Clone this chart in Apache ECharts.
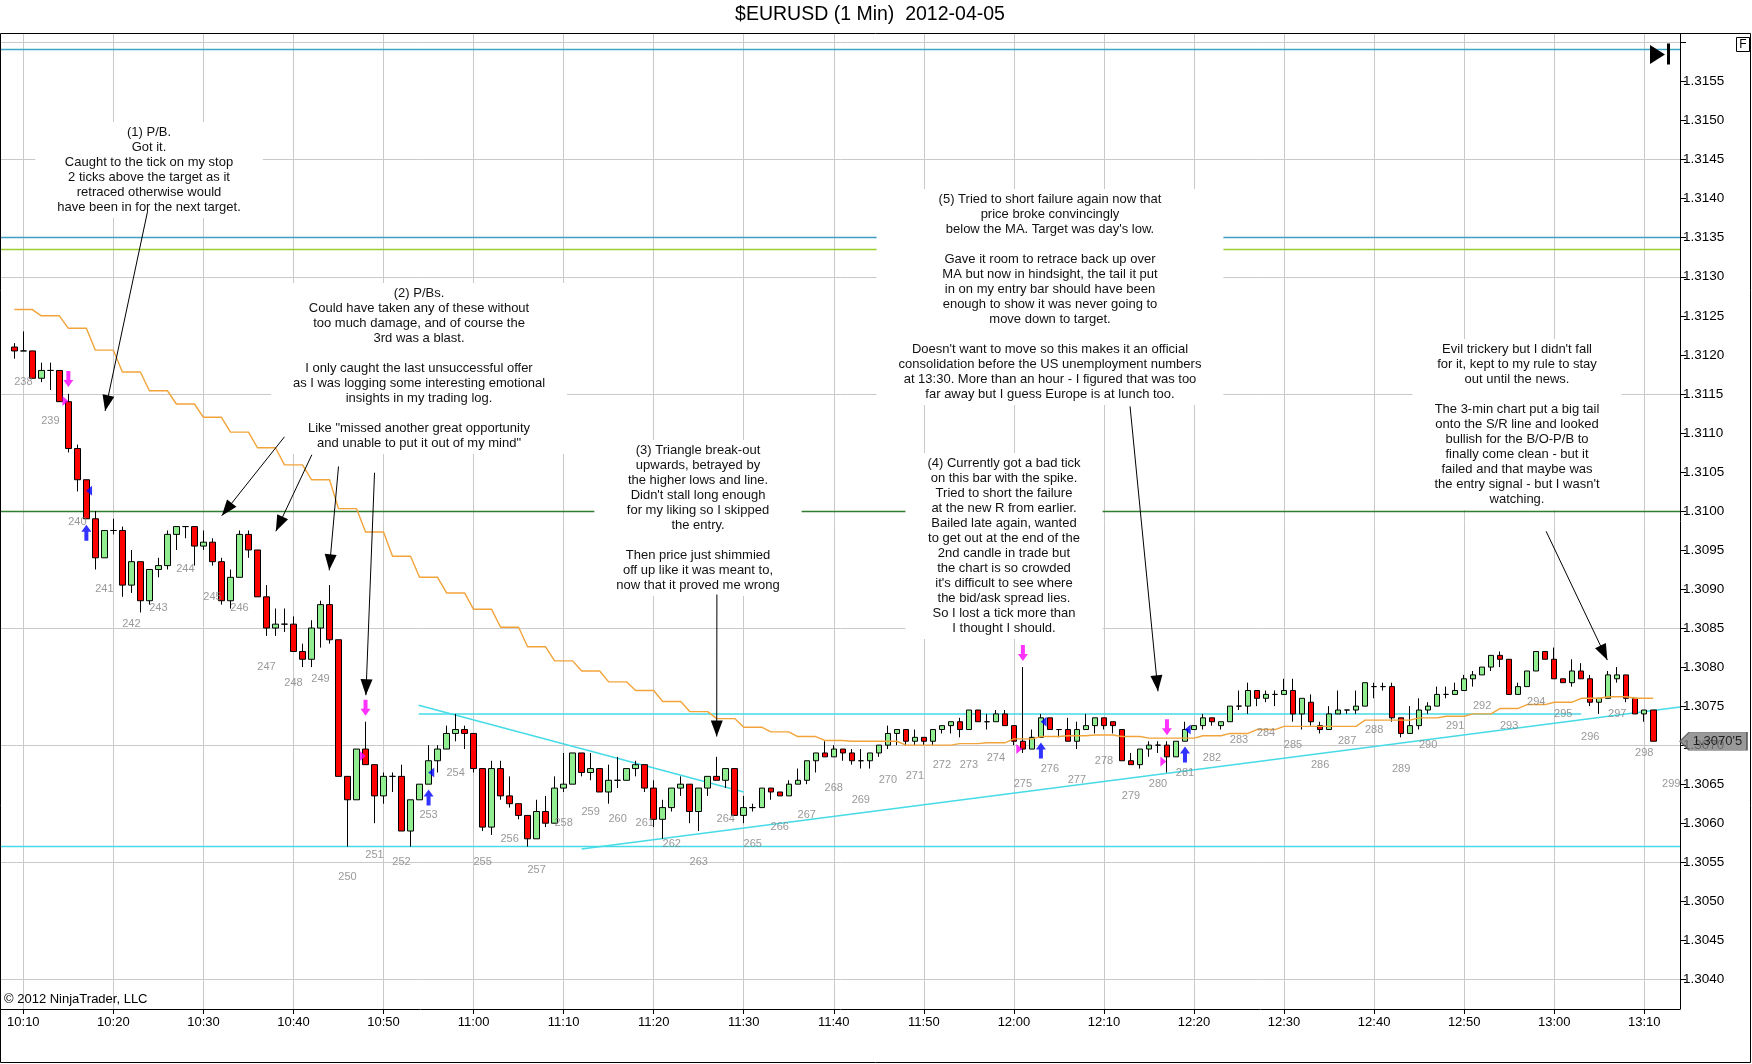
<!DOCTYPE html>
<html><head><meta charset="utf-8">
<script src="https://cdn.jsdelivr.net/npm/echarts@6/dist/echarts.min.js"></script>
<style>html,body{margin:0;padding:0;background:#fff}#c{width:1752px;height:1064px}</style>
</head><body><div id="c"></div>
<script>
// minutes are counted from 10:10 (0 = 10:10); first bar is 10:09
const firstBarMinute = -1;
// [open, close, low, high] per 1-min bar, 10:09 .. 13:11
const ohlc = [
 [1.3121,1.31205,1.31195,1.31215],
 // 10:10
 [1.31205,1.31205,1.31205,1.3123],[1.31205,1.3117,1.3117,1.31205],[1.3117,1.3118,1.31165,1.3119],[1.3118,1.3118,1.31155,1.3119],[1.3118,1.3114,1.3114,1.3118],
 [1.3114,1.3108,1.31075,1.3115],[1.3108,1.3104,1.31025,1.31085],[1.3104,1.3099,1.3099,1.3104],[1.3099,1.3094,1.30925,1.31],[1.3094,1.30975,1.3094,1.30975],
 // 10:20
 [1.30975,1.30975,1.3097,1.3099],[1.30975,1.30905,1.3089,1.3098],[1.30905,1.30935,1.30895,1.3095],[1.30935,1.30885,1.3087,1.30935],[1.30885,1.30925,1.3088,1.30925],
 [1.30925,1.3093,1.30915,1.3094],[1.3093,1.3097,1.30925,1.30975],[1.3097,1.3098,1.3095,1.3098],[1.3098,1.3098,1.30965,1.3098],[1.3098,1.30955,1.3093,1.3098],
 // 10:30
 [1.30955,1.3096,1.3095,1.30975],[1.3096,1.30935,1.3093,1.30965],[1.30935,1.30885,1.3088,1.3094],[1.30885,1.30915,1.30875,1.30925],[1.30915,1.3097,1.30915,1.30975],
 [1.3097,1.3095,1.3094,1.30975],[1.3095,1.3089,1.3089,1.3095],[1.3089,1.3085,1.3084,1.30905],[1.3085,1.30855,1.3084,1.30875],[1.30855,1.30855,1.30845,1.30875],
 // 10:40
 [1.30855,1.3082,1.3082,1.30865],[1.3082,1.3081,1.308,1.3083],[1.3081,1.3085,1.308,1.3086],[1.3085,1.3088,1.30825,1.30885],[1.3088,1.30835,1.3083,1.30905],
 [1.30835,1.3066,1.3066,1.30835],[1.3066,1.3063,1.3057,1.3066],[1.3063,1.30695,1.3063,1.30695],[1.30695,1.30675,1.30675,1.3073],[1.30675,1.30635,1.306,1.30675],
 // 10:50
 [1.30635,1.3066,1.30625,1.30665],[1.3066,1.3066,1.3064,1.30665],[1.3066,1.3059,1.3059,1.30675],[1.3059,1.3063,1.3057,1.3063],[1.3063,1.3065,1.3063,1.3065],
 [1.3065,1.3068,1.3065,1.307],[1.3068,1.30695,1.30665,1.307],[1.30695,1.30715,1.30695,1.30725],[1.30715,1.3072,1.30705,1.3074],[1.3072,1.30715,1.30695,1.30725],
 // 11:00
 [1.30715,1.3067,1.30665,1.30715],[1.3067,1.30595,1.3059,1.3067],[1.30595,1.3067,1.30585,1.3068],[1.3067,1.30635,1.3063,1.3068],[1.30635,1.30625,1.3062,1.3066],
 [1.30625,1.3061,1.30605,1.30625],[1.3061,1.3058,1.3057,1.3061],[1.3058,1.30615,1.3058,1.3063],[1.30615,1.306,1.30595,1.30635],[1.306,1.30645,1.306,1.3066],
 // 11:10
 [1.30645,1.3065,1.3064,1.3069],[1.3065,1.3069,1.3065,1.3069],[1.3069,1.30665,1.3066,1.3069],[1.30665,1.3067,1.30655,1.3069],[1.3067,1.3064,1.3064,1.3067],
 [1.3064,1.30655,1.30625,1.30675],[1.30655,1.30655,1.30645,1.30685],[1.30655,1.3067,1.30655,1.3067],[1.3067,1.30675,1.3066,1.3068],[1.30675,1.30645,1.3064,1.30675],
 // 11:20
 [1.30645,1.30605,1.30595,1.30655],[1.30605,1.3062,1.3058,1.3063],[1.3062,1.30645,1.30615,1.30645],[1.30645,1.3065,1.30635,1.3066],[1.3065,1.30615,1.306,1.3065],
 [1.30615,1.30645,1.3059,1.30645],[1.30645,1.3066,1.30635,1.3066],[1.3066,1.30655,1.30655,1.30685],[1.30655,1.3067,1.30645,1.3067],[1.3067,1.3061,1.3061,1.3067],
 // 11:30
 [1.3061,1.3062,1.306,1.30635],[1.3062,1.3062,1.30615,1.30625],[1.3062,1.30645,1.3062,1.30645],[1.30645,1.3064,1.3063,1.30645],[1.3064,1.30635,1.30635,1.3064],
 [1.30635,1.3065,1.30635,1.30655],[1.3065,1.30655,1.3065,1.3067],[1.30655,1.3068,1.3065,1.3068],[1.3068,1.3069,1.30665,1.3069],[1.3069,1.30685,1.30685,1.30705],
 // 11:40
 [1.30685,1.30695,1.30685,1.307],[1.30695,1.3069,1.3068,1.30695],[1.3069,1.3068,1.30675,1.30695],[1.3068,1.3068,1.3067,1.30695],[1.3068,1.3069,1.3067,1.3069],
 [1.3069,1.307,1.30685,1.307],[1.307,1.30715,1.30695,1.30725],[1.30715,1.3072,1.307,1.3072],[1.3072,1.30705,1.307,1.3072],[1.30705,1.3071,1.307,1.3072],
 // 11:50
 [1.3071,1.30705,1.307,1.3071],[1.30705,1.3072,1.307,1.3072],[1.3072,1.30725,1.30715,1.30725],[1.30725,1.3073,1.30715,1.3073],[1.3073,1.3072,1.3071,1.30735],
 [1.3072,1.30745,1.3072,1.30745],[1.30745,1.3073,1.3073,1.30745],[1.3073,1.3073,1.3072,1.3074],[1.3073,1.3074,1.3073,1.30745],[1.3074,1.30725,1.30725,1.30745],
 // 12:00
 [1.30725,1.30705,1.307,1.30725],[1.30705,1.30695,1.3069,1.308],[1.30695,1.3071,1.30695,1.3072],[1.3071,1.30735,1.3071,1.3074],[1.30735,1.3072,1.3072,1.30735],
 [1.3072,1.3072,1.3071,1.3072],[1.3072,1.30705,1.30705,1.30735],[1.30705,1.3072,1.30695,1.3073],[1.3072,1.30725,1.3072,1.3074],[1.30725,1.30735,1.30715,1.30735],
 // 12:10
 [1.30735,1.30725,1.3072,1.30735],[1.3073,1.30725,1.30715,1.3073],[1.3072,1.3068,1.3068,1.3072],[1.3068,1.30675,1.30675,1.3069],[1.30675,1.30695,1.3067,1.30695],
 [1.30695,1.307,1.30685,1.30705],[1.307,1.307,1.3069,1.30705],[1.307,1.30685,1.30665,1.30705],[1.30685,1.30705,1.30685,1.30705],[1.30705,1.3072,1.30705,1.3073],
 // 12:20
 [1.3072,1.30725,1.3072,1.30725],[1.30725,1.30735,1.3072,1.3074],[1.30735,1.3073,1.30725,1.30735],[1.30725,1.3073,1.3072,1.3073],[1.3073,1.3075,1.3073,1.3075],
 [1.3075,1.3075,1.30745,1.3077],[1.3075,1.3077,1.3074,1.3078],[1.3077,1.3076,1.3075,1.3077],[1.3076,1.30765,1.30755,1.3077],[1.30765,1.30765,1.3075,1.3077],
 // 12:30
 [1.30765,1.3077,1.30765,1.30785],[1.3077,1.3074,1.3073,1.30785],[1.3074,1.3076,1.3072,1.3076],[1.30755,1.3073,1.30725,1.30765],[1.30725,1.3072,1.30715,1.3073],
 [1.3072,1.3074,1.3072,1.3075],[1.3074,1.30745,1.3074,1.3077],[1.30745,1.30745,1.3074,1.30745],[1.30745,1.3075,1.3074,1.3077],[1.3075,1.3078,1.3075,1.3078],
 // 12:40
 [1.30775,1.30775,1.3076,1.3078],[1.30775,1.30775,1.3077,1.3078],[1.30775,1.30735,1.3073,1.3078],[1.30735,1.30715,1.3071,1.30735],[1.30715,1.30725,1.30715,1.3075],
 [1.30725,1.30745,1.3072,1.3076],[1.30745,1.3075,1.3074,1.30755],[1.3075,1.30765,1.3075,1.30775],[1.30765,1.30765,1.3076,1.30775],[1.30765,1.3077,1.30765,1.3078],
 // 12:50
 [1.3077,1.30785,1.3077,1.3079],[1.30785,1.3079,1.30775,1.30795],[1.3079,1.308,1.3079,1.308],[1.308,1.30815,1.30795,1.30815],[1.30815,1.3081,1.308,1.3082],
 [1.3081,1.30765,1.30765,1.3081],[1.30765,1.30775,1.30765,1.3078],[1.30775,1.30795,1.30775,1.30795],[1.30795,1.3082,1.30795,1.3082],[1.3082,1.3081,1.3081,1.3082],
 // 13:00
 [1.3081,1.30785,1.30785,1.30825],[1.30785,1.3078,1.3078,1.30785],[1.3078,1.30795,1.30775,1.3081],[1.30795,1.30785,1.30785,1.30805],[1.30785,1.30755,1.3075,1.3079],
 [1.30755,1.3076,1.3074,1.3076],[1.3076,1.3079,1.3076,1.30795],[1.30785,1.3079,1.3078,1.308],[1.3079,1.3076,1.30755,1.3079],[1.3076,1.3074,1.3074,1.3076],
 // 13:10
 [1.3074,1.30745,1.3073,1.30745],[1.30745,1.30705,1.30705,1.30745]
];
// moving average, one value per 3-minute block (first block 10:09-10:11, then 10:12-10:14, ...)
const maBlocks = [1.31258,1.3125,1.31234,1.31206,1.31178,1.31154,1.31137,1.3112,1.31101,1.31081,
 1.31059,1.3104,1.31003,1.30973,1.30942,1.30915,1.30895,1.30874,1.30851,1.30826,
 1.30808,1.30795,1.30781,1.3077,1.30756,1.30743,1.30734,1.30723,1.30717,1.30711,
 1.30706,1.30705,1.30705,1.307,1.307,1.30702,1.30703,1.30708,1.30711,1.30712,
 1.30713,1.30711,1.30709,1.30709,1.30712,1.30715,1.3072,1.30724,1.30724,1.30724,
 1.30732,1.30732,1.30735,1.30737,1.3074,1.30747,1.30752,1.30755,1.3076,1.30762,1.3076];
// bar counter labels 238..299 (every 3rd bar), price level of each label
const barNumberFirst = 238;
const barNumberPrices = [1.31165,1.31115,1.30986,1.309,1.30855,1.30876,1.30926,1.3089,1.30876,1.308,
 1.3078,1.30785,1.30531,1.30559,1.3055,1.30611,1.30665,1.3055,1.3058,1.3054,
 1.306,1.30614,1.30605,1.306,1.30574,1.3055,1.30605,1.30574,1.30595,1.3061,
 1.30645,1.3063,1.30655,1.3066,1.30674,1.30674,1.30684,1.3065,1.3067,1.30655,
 1.3068,1.30635,1.3065,1.30665,1.30684,1.30706,1.30715,1.307,1.30674,1.30705,
 1.3072,1.30669,1.307,1.30724,1.3075,1.30724,1.30755,1.3074,1.3071,1.3074,1.3069,1.3065];
// trade markers [minute, price]
const shortEntries = [[5,1.31169],[38,1.30748],[111,1.30818],[127,1.30723]];
const shortExits = [[4.67,1.31141],[37.7,1.30686],[110.6,1.30695],[126.6,1.30679]];
const coverMarks = [[7,1.30972],[45,1.30633],[113,1.30693],[129,1.30688]];
const coverExits = [[7.3,1.31026],[45.3,1.30665],[113.3,1.3073],[129.3,1.3072]];
// drawn lines
const horizontalLevels = [
 {price:1.31592,color:'#3fa6c4'},{price:1.3135,color:'#3f9fc2'},{price:1.31335,color:'#9acd32'},
 {price:1.3100,color:'#2f7d2f'},{price:1.3057,color:'#46dbe6'}];
const segmentLines = [ // [m1,p1,m2,p2]
 [43.9,1.3074,173,1.3074],[43.9,1.30751,80,1.3064],[62,1.30567,183.97,1.30749]];
const annotationArrows = [ // [m1,p1,m2,p2] tail -> head
 [13.8,1.31384,9.08,1.31128],[29.0,1.31095,22.04,1.30994],[32.04,1.31072,28.04,1.30974],
 [35.0,1.31057,33.97,1.30924],[39.0,1.31049,38.04,1.30764],[77.02,1.30893,77.0,1.30711],
 [122.9,1.31134,126.0,1.30769],[169.1,1.30974,175.9,1.30809]];
const lastPrice = 1.30705, lastPriceLabel = "1.3070'5";
// axes
const xMin = -2.48, xMax = 183.97, yMin = 1.30362, yMax = 1.31611;
const xTicks = [0,10,20,30,40,50,60,70,80,90,100,110,120,130,140,150,160,170,180];
const xTickLabels = ['10:10','10:20','10:30','10:40','10:50','11:00','11:10','11:20','11:30','11:40','11:50','12:00','12:10','12:20','12:30','12:40','12:50','13:00','13:10'];
const yTicks = [1.3040,1.3045,1.3050,1.3055,1.3060,1.3065,1.3070,1.3075,1.3080,1.3085,1.3090,1.3095,1.3100,1.3105,1.3110,1.3115,1.3120,1.3125,1.3130,1.3135,1.3140,1.3145,1.3150,1.3155,1.3160];
const yLabelTicks = yTicks.slice(0, yTicks.length - 1);
const hGrid = [1.3040,1.3055,1.3070,1.3085,1.3100,1.3115,1.3130,1.3145,1.3160];
const titleText = '$EURUSD (1 Min)  2012-04-05';
const notes = [
 {cx:149, top:122, text:'(1) P/B.\nGot it.\nCaught to the tick on my stop\n2 ticks above the target as it\nretraced otherwise would\nhave been in for the next target.'},
 {cx:419, top:283, text:'(2) P/Bs.\nCould have taken any of these without\ntoo much damage, and of course the\n3rd was a blast.\n\nI only caught the last unsuccessful offer\nas I was logging some interesting emotional\ninsights in my trading log.\n\nLike "missed another great opportunity\nand unable to put it out of my mind"'},
 {cx:698, top:440, text:"(3) Triangle break-out\nupwards, betrayed by\nthe higher lows and line.\nDidn't stall long enough\nfor my liking so I skipped\nthe entry.\n\nThen price just shimmied\noff up like it was meant to,\nnow that it proved me wrong"},
 {cx:1004, top:453, text:"(4) Currently got a bad tick\non this bar with the spike.\nTried to short the failure\nat the new R from earlier.\nBailed late again, wanted\nto get out at the end of the\n2nd candle in trade but\nthe chart is so crowded\nit's difficult to see where\nthe bid/ask spread lies.\nSo I lost a tick more than\nI thought I should."},
 {cx:1050, top:189, text:"(5) Tried to short failure again now that\nprice broke convincingly\nbelow the MA. Target was day's low.\n\nGave it room to retrace back up over\nMA but now in hindsight, the tail it put\nin on my entry bar should have been\nenough to show it was never going to\nmove down to target.\n\nDoesn't want to move so this makes it an official\nconsolidation before the US unemployment numbers\nat 13:30. More than an hour - I figured that was too\nfar away but I guess Europe is at lunch too."},
 {cx:1517, top:339, text:"Evil trickery but I didn't fall\nfor it, kept to my rule to stay\nout until the news.\n\nThe 3-min chart put a big tail\nonto the S/R line and looked\nbullish for the B/O-P/B to\nfinally come clean - but it\nfailed and that maybe was\nthe entry signal - but I wasn't\nwatching."}
];

const FONT = '"Liberation Sans", Arial, Helvetica, sans-serif';
const candleData = ohlc.map((d, i) => [firstBarMinute + i, d[0], d[1], d[2], d[3]]);
const maData = [];
maBlocks.forEach((v, g) => {
  const from = g === 0 ? firstBarMinute : firstBarMinute + 3 * g;
  for (let j = 0; j < 3; j++) maData.push([from + j, v]);
});
const barNumberData = barNumberPrices.map((p, i) => [3 * i, p, barNumberFirst + i]);
const hLine = (p, style) => [{coord: [xMin, p], lineStyle: style}, {coord: [xMax, p]}];
const vLine = (m, style) => [{coord: [m, yMin], lineStyle: style}, {coord: [m, yMax]}];

const chart = echarts.init(document.getElementById('c'), null, {renderer: 'canvas'});
const noLabel = {show: false};
const gridStyle = {color: '#c9c9c9', width: 1, type: 'solid'};
const option = {
  animation: false,
  backgroundColor: '#fff',
  grid: {left: 1, right: 72, top: 34, bottom: 55, containLabel: false, outerBoundsMode: 'none'},
  xAxis: {
    type: 'value', min: xMin, max: xMax, position: 'bottom', z: 1,
    axisLine: {show: true, onZero: false, lineStyle: {color: '#000', width: 1}},
    axisTick: {show: true, length: 5, customValues: xTicks, lineStyle: {color: '#000'}},
    axisLabel: {show: true, customValues: xTicks, margin: 7, color: '#000', fontSize: 13, fontFamily: FONT,
      formatter: v => { const i = xTicks.indexOf(Math.round(v)); return i >= 0 ? xTickLabels[i] : ''; }},
    splitLine: {show: false}
  },
  yAxis: {
    type: 'value', min: yMin, max: yMax, position: 'right', scale: true, z: 1,
    axisLine: {show: true, onZero: false, lineStyle: {color: '#000', width: 1}},
    axisTick: {show: true, length: 6, customValues: yTicks, lineStyle: {color: '#000'}},
    axisLabel: {show: true, customValues: yLabelTicks, margin: 3, color: '#000', fontSize: 13.5, fontFamily: FONT,
      formatter: v => v.toFixed(4)},
    splitLine: {show: false}
  },
  graphic: [
    {type: 'rect', z: 0, silent: true, shape: {x: 0.5, y: 33.5, width: 1750, height: 1029}, style: {fill: 'none', stroke: '#000', lineWidth: 1}},
    {type: 'text', z: 10, x: 870, y: 15, style: {text: titleText, font: '19.5px ' + FONT, fill: '#000', align: 'center', verticalAlign: 'middle'}},
    {type: 'text', z: 10, x: 4, y: 999, style: {text: '\u00a9 2012 NinjaTrader, LLC', font: '13px ' + FONT, fill: '#000', align: 'left', verticalAlign: 'middle'}},
    {type: 'rect', z: 10, shape: {x: 1736.5, y: 37.5, width: 13, height: 14}, style: {fill: '#fff', stroke: '#000', lineWidth: 1}},
    {type: 'text', z: 11, x: 1743, y: 45, style: {text: 'F', font: '12px ' + FONT, fill: '#000', align: 'center', verticalAlign: 'middle'}},
    {type: 'polygon', z: 10, shape: {points: [[1650, 45], [1650, 64], [1665, 54.5]]}, style: {fill: '#000'}},
    {type: 'rect', z: 10, shape: {x: 1667, y: 43.5, width: 3, height: 21}, style: {fill: '#000'}}
  ].concat(notes.map(n => ({
    type: 'text', z: 2, x: n.cx, y: n.top,
    style: {text: n.text, font: '13px ' + FONT, fill: '#111', align: 'center', verticalAlign: 'top',
      lineHeight: 15, backgroundColor: '#fff', padding: [3, 22]}
  }))),
  series: [
    { // grid lines
      type: 'line', data: [], z: 1, silent: true,
      markLine: {z: 1, silent: true, symbol: ['none', 'none'], label: noLabel, animation: false,
        lineStyle: gridStyle, emphasis: {disabled: true},
        data: xTicks.map(v => vLine(v, gridStyle)).concat(hGrid.map(v => hLine(v, gridStyle)))}
    },
    { // horizontal levels and trend lines
      type: 'line', data: [], z: 1, silent: true,
      markLine: {z: 1, silent: true, symbol: ['none', 'none'], label: noLabel, animation: false,
        emphasis: {disabled: true},
        data: horizontalLevels.map(h => hLine(h.price, {color: h.color, width: 1.3, type: 'solid'}))
          .concat(segmentLines.map(s => [{coord: [s[0], s[1]], lineStyle: {color: '#46dbe6', width: 1.5, type: 'solid'}}, {coord: [s[2], s[3]]}]))}
    },
    {
      type: 'candlestick', z: 3, data: candleData, barWidth: 6,
      encode: {x: 0, y: [1, 2, 3, 4]},
      itemStyle: {color: '#90ee90', color0: '#ff0000', borderColor: '#000', borderColor0: '#000', borderWidth: 1},
      emphasis: {disabled: true}
    },
    {
      type: 'line', z: 4, data: maData, showSymbol: false, symbol: 'none', silent: true,
      lineStyle: {color: '#f2a43a', width: 1.4}
    },
    {
      type: 'scatter', z: 5, data: barNumberData, symbolSize: 0, silent: true,
      label: {show: true, position: 'inside', formatter: p => String(p.value[2]), color: '#808080', fontSize: 11, fontFamily: FONT}
    },
    {type: 'scatter', z: 6, data: shortEntries, silent: true, symbol: 'path://M3,0 L7,0 L7,9 L10,9 L5,16 L0,9 L3,9 Z', symbolSize: [10, 16], itemStyle: {color: '#ff00ff'}},
    {type: 'scatter', z: 6, data: shortExits, silent: true, symbol: 'path://M0,0 L6,5 L0,10 Z', symbolSize: [6, 10], itemStyle: {color: '#ff00ff'}},
    {type: 'scatter', z: 6, data: coverMarks, silent: true, symbol: 'path://M5,0 L10,7 L7,7 L7,16 L3,16 L3,7 L0,7 Z', symbolSize: [10, 16], itemStyle: {color: '#0000ff'}},
    {type: 'scatter', z: 6, data: coverExits, silent: true, symbol: 'path://M6,0 L0,5 L6,10 Z', symbolSize: [6, 10], itemStyle: {color: '#0000ff'}},
    { // annotation arrows
      type: 'line', data: [], z: 7, silent: true,
      markLine: {z: 7, silent: true, symbol: ['none', 'triangle'], symbolSize: [12, 16], symbolOffset: [[0, 0], [0, 8]],
        label: noLabel, animation: false, emphasis: {disabled: true},
        lineStyle: {color: '#000', width: 1, type: 'solid'},
        itemStyle: {color: '#000'},
        data: annotationArrows.map(a => [{coord: [a[0], a[1]]}, {coord: [a[2], a[3]]}])}
    },
    { // last price marker
      type: 'scatter', z: 8, clip: false, silent: true, data: [[xMax, lastPrice]],
      symbol: 'path://M0,9 L9,0 L67,0 L67,18 L9,18 Z', symbolSize: [67, 18], symbolOffset: [33.5, 0],
      itemStyle: {color: '#808080', borderColor: '#555', borderWidth: 1},
      label: {show: true, position: 'inside', offset: [4, 0], formatter: () => lastPriceLabel, color: '#000', fontSize: 13, fontFamily: FONT}
    }
  ]
};
chart.setOption(option);
</script>
</body></html>
